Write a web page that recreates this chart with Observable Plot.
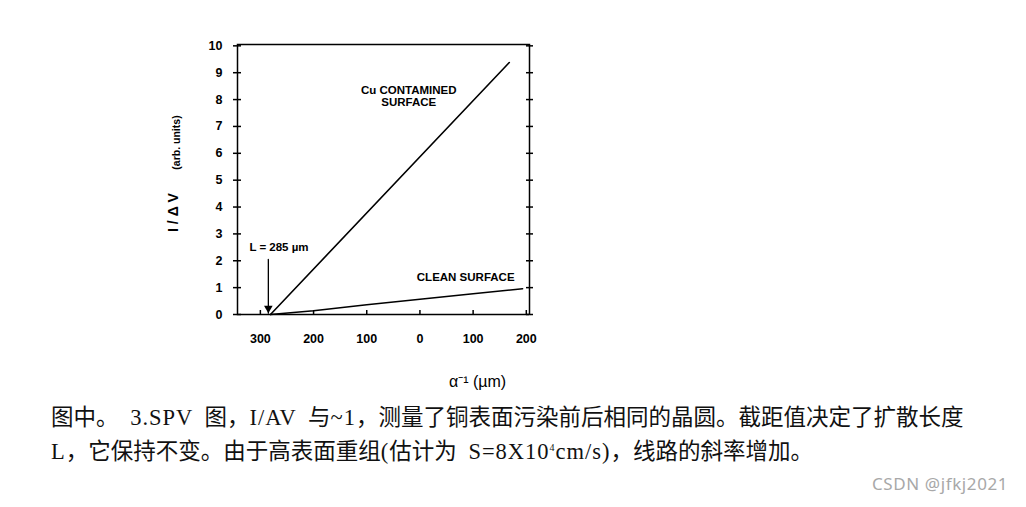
<!DOCTYPE html>
<html>
<head>
<meta charset="utf-8">
<script src="https://cdn.jsdelivr.net/npm/d3@7"></script>
<script src="https://cdn.jsdelivr.net/npm/@observablehq/plot@0.6"></script>
<style>
  html, body { margin: 0; padding: 0; background: #fff; width: 1026px; height: 507px; overflow: hidden; position: relative; }
  #chart { position: absolute; left: 0; top: 0; }
  .cap { position: absolute; left: 51px; font-family: "Liberation Serif", "Noto Sans CJK SC", serif; font-size: 22.5px; line-height: 24px; color: #111; white-space: pre; }
  .cap .m { letter-spacing: 1px; word-spacing: 5px; }
  #wm { position: absolute; left: 872px; top: 472px; font-family: "Noto Sans", "Noto Sans CJK SC", sans-serif; font-size: 17px; letter-spacing: 0.6px; color: #a8a8a8; white-space: nowrap; }
</style>
</head>
<body>
<div id="chart"></div>
<div class="cap" style="top:406px">图中。<span class="m"> 3.SPV </span>图，<span class="m">I/AV </span>与<span class="m">~1</span>，测量了铜表面污染前后相同的晶圆。截距值决定了扩散长度</div>
<div class="cap" style="top:435px"><span class="m">L</span>，它保持不变。由于高表面重组<span class="m">(</span>估计为<span class="m"> S=8X10<sup style="font-size:10px">4</sup>cm/s)</span>，线路的斜率增加。</div>
<div id="wm">CSDN @jfkj2021</div>
<script>
// Data
const xTicks = [-300, -200, -100, 0, 100, 200];
const yTicks = [0, 1, 2, 3, 4, 5, 6, 7, 8, 9, 10];
const contaminatedX = [-281, 168];
const contaminatedY = [0, 9.38];
const cleanX = [-281, -200, -100, 0, 100, 193];
const cleanY = [0, 0.14, 0.36, 0.57, 0.77, 0.96];
const labelText = ["Cu CONTAMINED", "SURFACE", "CLEAN SURFACE", "L = 285 µm"];
const labelX = [-21, -21, 86, -265];
const labelY = [8.34, 7.89, 1.38, 2.49];
const arrowX = -285;
const arrowTop = 2.05;
const arrowBottom = 0.05;

const contaminated = contaminatedX.map((x, i) => ({x, y: contaminatedY[i]}));
const clean = cleanX.map((x, i) => ({x, y: cleanY[i]}));
const labels = labelText.map((t, i) => ({t, x: labelX[i], y: labelY[i]}));

const FONT = "Liberation Sans, Arial, sans-serif";

const chart = Plot.plot({
  width: 1026,
  height: 395,
  marginLeft: 237,
  marginRight: 497,
  marginTop: 44,
  marginBottom: 81,
  style: { fontFamily: FONT, background: "#fff", color: "#000" },
  x: { domain: [-343, 206] },
  y: { domain: [0, 10.05] },
  marks: [
    Plot.frame({ stroke: "#000", strokeWidth: 1.5 }),
    Plot.axisY({ anchor: "left", ticks: yTicks, tickSize: 4, tickPadding: 11, tickFormat: d => String(d), label: null, fontSize: 12.5, fontWeight: "bold", strokeWidth: 1.5 }),
    Plot.axisY({ anchor: "right", ticks: yTicks, tickSize: 3, tickFormat: () => "", label: null, strokeWidth: 1.5 }),
    Plot.tickY(yTicks, { y: d => d, insetRight: 288, stroke: "#000", strokeWidth: 1.5 }),
    Plot.tickY(yTicks, { y: d => d, insetLeft: 289, stroke: "#000", strokeWidth: 1.5 }),
    Plot.tickX(xTicks, { x: d => d, insetTop: 266, stroke: "#000", strokeWidth: 1.5 }),
    Plot.axisX({ anchor: "bottom", ticks: xTicks, tickSize: 0, tickPadding: 20, tickFormat: d => String(Math.abs(d)), label: null, fontSize: 12.5, fontWeight: "bold" }),
    Plot.line(contaminated, { x: "x", y: "y", stroke: "#000", strokeWidth: 1.6 }),
    Plot.line(clean, { x: "x", y: "y", stroke: "#000", strokeWidth: 1.6 }),
    Plot.arrow([{ x: arrowX, y1: arrowTop, y2: arrowBottom }], { x1: "x", x2: "x", y1: "y1", y2: "y2", stroke: "#000", strokeWidth: 1.3, headLength: 0 }),
    Plot.dot([{ x: arrowX, y: arrowBottom }], { x: "x", y: "y", symbol: "triangle", rotate: 180, r: 3.2, dy: -5, fill: "#000", stroke: "none" }),
    Plot.text(labels, { x: "x", y: "y", text: "t", fontSize: 11.5, fontWeight: "bold", fill: "#000" }),
    Plot.text(["α⁻¹ (µm)"], { frameAnchor: "bottom", dx: 94, dy: 72, fontSize: 16, fill: "#000" }),
    Plot.text(["I / Δ V"], { frameAnchor: "left", textAnchor: "middle", dx: -64, dy: 33, rotate: -90, fontSize: 14, fontWeight: "bold", fill: "#000" }),
    Plot.text(["(arb. units)"], { frameAnchor: "left", textAnchor: "middle", dx: -61, dy: -37, rotate: -90, fontSize: 10.5, fontWeight: "bold", fill: "#000" })
  ]
});
document.getElementById("chart").appendChild(chart);
</script>
</body>
</html>
